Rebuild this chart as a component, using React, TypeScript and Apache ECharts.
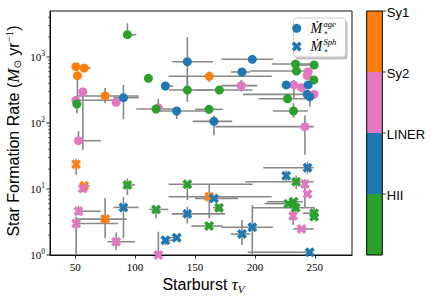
import React, { useEffect, useRef } from "react";
import * as echarts from "echarts";

const classNames = ["HII", "LINER", "Sy2", "Sy1"];
const classColors = ["#2ca02c", "#1f77b4", "#e377c2", "#ff7f0e"];

const xTicks = [50, 100, 150, 200, 250];
const yMajorTicks = [1, 10, 100, 1000];
const yMinorTicks = [2, 3, 4, 5, 6, 7, 8, 9, 20, 30, 40, 50, 60, 70, 80, 90, 200, 300, 400, 500, 600, 700, 800, 900, 2000, 3000, 4000];
const legendSup = ["age", "Sph"];

// [tauV, SFR, class, tauLow, tauHigh, sfrLow, sfrHigh]
const mdotAge = [
  [93.6, 2180, 0, 91, 101, 2000, 3240],
  [50.6, 713, 3, 50.6, 50.6, 713, 713],
  [57.5, 681, 3, 56, 63, 650, 700],
  [51.9, 521, 3, 51.9, 51.9, 187, 560],
  [56.4, 298, 2, 55, 58, 39, 330],
  [50.6, 221, 2, 50.6, 84, 200, 240],
  [51.4, 194, 0, 51.4, 51.4, 141, 215],
  [75, 257, 3, 52, 103, 200, 340],
  [84.2, 206, 2, 84.2, 84.2, 206, 206],
  [90.3, 242, 1, 82, 103, 114, 377],
  [111.1, 476, 0, 111.1, 111.1, 476, 476],
  [125.3, 364, 1, 123, 132, 364, 364],
  [143.6, 316, 0, 128, 165, 210, 500],
  [143.6, 849, 1, 131, 165, 355, 2000],
  [119.4, 171, 2, 119.4, 119.4, 150, 230],
  [117.5, 163, 0, 101, 135, 163, 163],
  [134.7, 152, 1, 120, 160, 115, 165],
  [197.8, 923, 1, 172, 215, 923, 923],
  [189.2, 593, 1, 180, 196, 593, 593],
  [161.9, 510, 3, 128, 214, 420, 600],
  [188.6, 368, 2, 172, 202, 300, 450],
  [170.3, 316, 0, 150, 198, 316, 316],
  [161.7, 161, 0, 150, 173, 161, 161],
  [165.8, 106, 1, 148, 181, 65, 130],
  [241.7, 88, 2, 167, 249, 33, 130],
  [233.9, 783, 0, 214, 250, 700, 860],
  [249.4, 757, 0, 237, 252, 757, 757],
  [234.7, 614, 0, 196, 248, 614, 614],
  [244.4, 598, 2, 244.4, 244.4, 598, 598],
  [243.6, 521, 2, 243.6, 243.6, 521, 521],
  [249.2, 449, 0, 249.2, 249.2, 449, 449],
  [232.5, 377, 2, 232.5, 232.5, 240, 450],
  [226.1, 377, 1, 226.1, 226.1, 377, 377],
  [238.9, 343, 2, 238.9, 238.9, 343, 343],
  [244.4, 377, 1, 244.4, 244.4, 377, 377],
  [243.6, 272, 1, 190, 250, 272, 272],
  [249.4, 272, 2, 249.4, 249.4, 272, 272],
  [245.8, 251, 1, 245.8, 245.8, 177, 251],
  [227.2, 233, 0, 203, 243, 233, 233],
  [232.2, 152, 0, 215, 244, 120, 200],
  [52.8, 54, 2, 51, 71.4, 50, 75],
];

const mdotSph = [
  [50.8, 23.7, 3, 50.8, 50.8, 16.6, 28.5],
  [57.5, 11.2, 3, 55, 62, 11.2, 11.2],
  [56.4, 10.2, 2, 56.4, 56.4, 9, 12],
  [93.6, 11.5, 0, 90, 100, 8.1, 14.5],
  [143.6, 11.8, 0, 128, 198, 6.8, 11.8],
  [52.8, 4.6, 2, 51, 71.4, 4, 5.5],
  [50.8, 3.0, 2, 50, 86, 1, 3.8],
  [75, 3.5, 3, 51.4, 93, 1.8, 7.3],
  [90.3, 5.26, 1, 82, 103, 1.8, 7.6],
  [84.2, 1.59, 2, 77, 100, 1.19, 2.2],
  [117.5, 4.9, 0, 112, 127.8, 3.6, 4.9],
  [143.6, 4.2, 1, 130.6, 175, 3.0, 5.4],
  [125.3, 1.67, 1, 124, 131, 1.4, 1.67],
  [134.7, 1.83, 1, 126, 137, 1.83, 1.83],
  [119.4, 1.0, 2, 119.4, 119.4, 1, 2.25],
  [161.9, 7.65, 3, 128, 214, 3.6, 11.5],
  [165.8, 7.2, 1, 150, 186, 7.2, 7.2],
  [170, 5.2, 0, 165, 173, 4.5, 6],
  [161.7, 2.75, 0, 147, 173, 2.75, 2.75],
  [197.8, 2.63, 1, 172, 215, 1.0, 5.7],
  [189.2, 2.08, 1, 180, 196, 1.42, 3.4],
  [243.9, 21, 1, 207, 249, 17, 26],
  [226.1, 15.9, 1, 226.1, 226.1, 13, 19],
  [234.4, 12.9, 0, 192, 249, 10, 16],
  [241.7, 11.9, 2, 241.7, 241.7, 5.3, 14],
  [243.9, 8.4, 2, 243.9, 243.9, 8.4, 8.4],
  [227.8, 6.0, 0, 208, 232, 6.0, 6.0],
  [232.2, 6.4, 0, 210, 240, 6.4, 6.4],
  [234, 5.2, 0, 198, 250, 4.2, 5.2],
  [231.9, 3.9, 2, 231.9, 231.9, 2.85, 5.4],
  [249.4, 4.3, 0, 240, 250, 4.3, 5.2],
  [249.4, 3.8, 0, 249.4, 249.4, 3.8, 3.8],
  [238.9, 2.48, 2, 232, 249, 2.48, 2.48],
  [245.8, 1.1, 1, 194, 246, 1.1, 1.1],
];

const X_MIN = 29;
const X_MAX = 281;
const Y_MIN = 1;
const Y_MAX = 4980;

const X_PATH =
  "path://M0,424L142,566L283,424L424,566L566,424L424,283L566,142L424,0L283,142L142,0L0,142L142,283Z";

const X_BASE = [
  [0, 424], [142, 566], [283, 424], [424, 566], [566, 424], [424, 283],
  [566, 142], [424, 0], [283, 142], [142, 0], [0, 142], [142, 283],
];
function xPoly(cx: number, cy: number, size: number) {
  const k = size / 566;
  return X_BASE.map(([a, b]) => [cx - size / 2 + a * k, cy - size / 2 + b * k]);
}

const SERIF = "'Liberation Serif', 'DejaVu Serif', serif";
const SANS = "'Liberation Sans', Arial, sans-serif";

export default function App() {
  const ref = useRef<HTMLDivElement>(null);
  useEffect(() => {
    if (!ref.current) return;
    const chart = echarts.init(ref.current, undefined, { renderer: "svg" });

    const cbLeft = 366.7;
    const cbTop = 11;
    const cbW = 15.6;
    const cbH = 244;
    const seg = cbH / classNames.length;

    const graphic: any[] = [];
    classNames.forEach((name, i) => {
      const y = cbTop + cbH - (i + 1) * seg;
      graphic.push({
        type: "rect",
        shape: { x: cbLeft, y, width: cbW, height: seg },
        style: { fill: classColors[i] },
      });
      graphic.push({
        type: "line",
        shape: { x1: cbLeft + cbW, y1: y, x2: cbLeft + cbW + 3.5, y2: y },
        style: { stroke: "#000", lineWidth: 0.8 },
      });
      graphic.push({
        type: "text",
        x: cbLeft + cbW + 4.5,
        y: y + 1,
        style: {
          text: name,
          fontFamily: SANS,
          fontSize: 13,
          fill: "#000",
          align: "left",
          verticalAlign: "middle",
          textAlign: "left",
          textVerticalAlign: "middle",
        },
      });
    });
    graphic.push({
      type: "rect",
      shape: { x: cbLeft, y: cbTop, width: cbW, height: cbH },
      style: { fill: "none", stroke: "#000", lineWidth: 1 },
    });

    // legend
    graphic.push({
      type: "rect",
      shape: { x: 295.5, y: 20.5, width: 52, height: 39, r: 3 },
      style: { fill: "rgba(128,128,128,0.5)" },
    });
    graphic.push({
      type: "rect",
      shape: { x: 293.5, y: 18, width: 52, height: 39, r: 3 },
      style: { fill: "rgba(255,255,255,0.95)", stroke: "#cccccc", lineWidth: 1 },
    });
    graphic.push({
      type: "circle",
      shape: { cx: 296.7, cy: 28.3, r: 4.5 },
      style: { fill: classColors[1] },
    });
    graphic.push({
      type: "polygon",
      shape: { points: xPoly(296.7, 46.6, 10) },
      style: { fill: classColors[1] },
    });
    legendSup.forEach((sup, i) => {
      const cy = 28.5 + i * 18.2;
      const base = {
        fill: "#000",
        align: "left",
        verticalAlign: "middle",
        textAlign: "left",
        textVerticalAlign: "middle",
      };
      graphic.push({
        type: "text",
        x: 310.5,
        y: cy,
        style: { ...base, text: "Ṁ", fontFamily: SERIF, fontStyle: "italic", fontSize: 14 },
      });
      graphic.push({
        type: "text",
        x: 323.5,
        y: cy - 4.5,
        style: { ...base, text: sup, fontFamily: SERIF, fontStyle: "italic", fontSize: 8.5 },
      });
      graphic.push({
        type: "text",
        x: 323.5,
        y: cy + 4,
        style: { ...base, text: "∗", fontFamily: SERIF, fontSize: 7 },
      });
    });

    // axis titles
    graphic.push({
      type: "text",
      x: 203.5,
      y: 284,
      style: {
        text: "{a|Starburst }{t|τ}{v|V}",
        align: "center",
        verticalAlign: "middle",
        textAlign: "center",
        textVerticalAlign: "middle",
        fill: "#000",
        rich: {
          a: { fontFamily: SANS, fontSize: 16, fill: "#000" },
          t: { fontFamily: SERIF, fontStyle: "italic", fontSize: 17, fill: "#000" },
          v: { fontFamily: SERIF, fontStyle: "italic", fontSize: 11, fill: "#000", padding: [9, 0, 0, 0] },
        },
      },
    });
    graphic.push({
      type: "text",
      x: 13.5,
      y: 131,
      rotation: Math.PI / 2,
      style: {
        text: "{a|Star Formation Rate (}{m|M}{o|⊙}{a| yr}{s|−1}{a|)}",
        align: "center",
        verticalAlign: "middle",
        textAlign: "center",
        textVerticalAlign: "middle",
        fill: "#000",
        rich: {
          a: { fontFamily: SANS, fontSize: 16, fill: "#000" },
          m: { fontFamily: SERIF, fontStyle: "italic", fontSize: 17, fill: "#000" },
          o: { fontFamily: "'DejaVu Sans', sans-serif", fontSize: 10, fill: "#000", padding: [8, 0, 0, 0] },
          s: { fontFamily: SERIF, fontSize: 11, fill: "#000", padding: [0, 0, 10, 0] },
        },
      },
    });

    const errorData = [...mdotAge, ...mdotSph];

    const option: any = {
      animation: false,
      grid: {
        left: 50,
        top: 11,
        right: 84,
        bottom: 44,
        show: true,
        borderColor: "#111",
        borderWidth: 1,
        backgroundColor: "transparent",
      },
      xAxis: {
        type: "value",
        min: X_MIN,
        max: X_MAX,
        axisLine: { show: true, onZero: false, lineStyle: { color: "#111", width: 1 } },
        axisTick: { show: true, customValues: xTicks, length: 3.5, lineStyle: { color: "#111", width: 0.9 } },
        axisLabel: {
          customValues: xTicks,
          margin: 6,
          fontFamily: SERIF,
          fontSize: 11,
          color: "#000",
        },
        splitLine: { show: false },
      },
      yAxis: {
        type: "log",
        logBase: 10,
        min: Y_MIN,
        max: Y_MAX,
        axisLine: { show: true, onZero: false, lineStyle: { color: "#111", width: 1 } },
        axisTick: { show: false },
        axisLabel: {
          showMaxLabel: false,
          margin: 5,
          formatter: (v: number) => `{b|10}{s|${Math.round(Math.log10(v))}}`,
          rich: {
            b: { fontFamily: SERIF, fontSize: 11, color: "#000" },
            s: { fontFamily: SERIF, fontSize: 7.5, color: "#000", padding: [0, 0, 8, 0] },
          },
        },
        splitLine: { show: false },
      },
      series: [
        {
          type: "custom",
          z: 2,
          silent: true,
          clip: true,
          data: errorData,
          renderItem: (_p: any, api: any) => {
            const x = api.value(0);
            const y = api.value(1);
            const a = api.coord([api.value(3), y]);
            const b = api.coord([api.value(4), y]);
            const c = api.coord([x, api.value(5)]);
            const d = api.coord([x, api.value(6)]);
            const st = { stroke: "#888888", lineWidth: 1.6 };
            return {
              type: "group",
              children: [
                { type: "line", shape: { x1: a[0], y1: a[1], x2: b[0], y2: b[1] }, style: st },
                { type: "line", shape: { x1: c[0], y1: c[1], x2: d[0], y2: d[1] }, style: st },
              ],
            };
          },
        },
        {
          type: "scatter",
          z: 3,
          symbol: "circle",
          symbolSize: 9,
          data: mdotAge.map((p) => [p[0], p[1], p[2]]),
          itemStyle: { opacity: 1, color: (p: any) => classColors[p.data[2]] },
        },
        {
          type: "scatter",
          z: 4,
          symbol: X_PATH,
          symbolSize: 10,
          data: mdotSph.map((p) => [p[0], p[1], p[2]]),
          itemStyle: { opacity: 1, color: (p: any) => classColors[p.data[2]] },
        },
        {
          type: "custom",
          z: 5,
          silent: true,
          clip: false,
          data: [
            ...yMajorTicks.map((v) => [X_MIN, v, 1]),
            ...yMinorTicks.map((v) => [X_MIN, v, 0]),
          ],
          renderItem: (_p: any, api: any) => {
            const pt = api.coord([X_MIN, api.value(1)]);
            const major = api.value(2) === 1;
            const len = major ? 3.5 : 2;
            return {
              type: "line",
              shape: { x1: pt[0] - len, y1: pt[1], x2: pt[0], y2: pt[1] },
              style: { stroke: "#111", lineWidth: major ? 0.9 : 0.6 },
            };
          },
        },
      ],
      graphic,
    };

    chart.setOption(option);
    return () => chart.dispose();
  }, []);

  return (
    <div
      ref={ref}
      style={{ position: "absolute", left: 0, top: 0, width: 436, height: 299, background: "#fff" }}
    />
  );
}
